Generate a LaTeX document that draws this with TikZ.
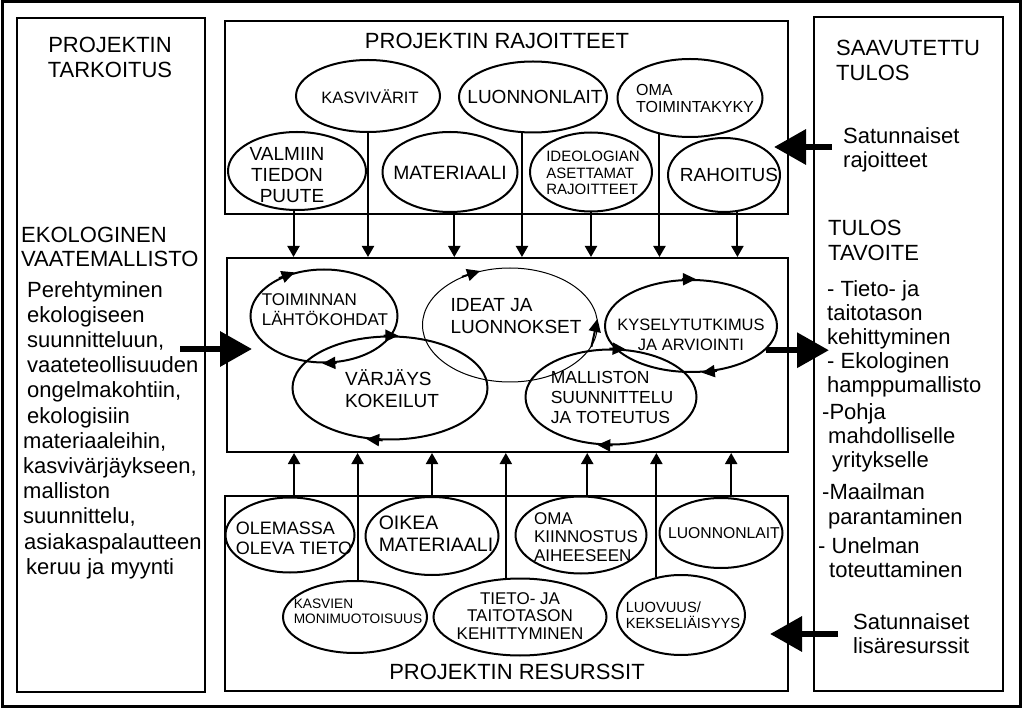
\documentclass[tikz,border=0pt]{standalone}
\usepackage{fontspec}
\setmainfont{Liberation Sans}
\usetikzlibrary{arrows.meta,shapes.geometric}
\newcommand{\fs}[2]{\fontsize{#1}{#2}\selectfont}
\tikzset{
  laatikko/.style={draw, line width=2pt, inner sep=0pt, anchor=north west},
  soikio/.style={draw, ellipse, line width=2pt, inner sep=0pt},
  teksti/.style={inner sep=0pt, align=left},
  alas/.style={line width=2pt, -{Triangle[length=11pt,width=12pt]}},
  iso/.style={line width=6.5pt, -{Triangle[length=32pt,width=34pt]}},
  kierto/.style={line width=2pt, -{Triangle[length=13pt,width=12pt]}},
}
\begin{document}
\begin{tikzpicture}[x=1pt,y=-1pt]%
   \useasboundingbox (0,0) rectangle (1023,708);
   \draw[line width=3pt] (2,2) rectangle (1020,706);
   \node[laatikko, minimum width=188pt, minimum height=674pt] (tarkoitusbox) at (16,17) {};
   \node[laatikko, minimum width=563pt, minimum height=193pt] (rajoitteet) at (224,20) {};
   \node[laatikko, minimum width=561pt, minimum height=194pt] (keski) at (226,257) {};
   \node[laatikko, minimum width=563pt, minimum height=195pt] (resurssit) at (224,495) {};
   \node[laatikko, minimum width=189pt, minimum height=674pt] (tulosbox) at (813,16) {};
   \node[teksti, align=center, anchor=north, font=\fs{22}{25}] (tarkoitus) at (110,37) {PROJEKTIN\\TARKOITUS};
   \node[teksti, anchor=north west, font=\fs{22}{24}] (ekologinen) at (21,227) {EKOLOGINEN\\VAATEMALLISTO};
   \node[teksti, anchor=north west, font=\fs{22}{25.2}] (kuvaus) at (23,281) {\hspace*{4pt}Perehtyminen\\\hspace*{4pt}ekologiseen\\\hspace*{4pt}suunnitteluun,\\\hspace*{4pt}vaateteollisuuden\\\hspace*{4pt}ongelmakohtiin,\\\hspace*{4pt}ekologisiin\\materiaaleihin,\\kasvivärjäykseen,\\malliston\\suunnittelu,\\\hspace*{1pt}asiakaspalautteen\\\hspace*{3pt}keruu ja myynti};
   \node[teksti, font=\fs{22}{25}] (rajotsikko) at (497,41) {PROJEKTIN RAJOITTEET};
   \node[teksti, font=\fs{22}{25}] (resotsikko) at (517,672) {PROJEKTIN RESURSSIT};
   \node[teksti, anchor=north west, font=\fs{22}{25}] (saavutettu) at (836,40) {SAAVUTETTU\\TULOS};
   \node[teksti, anchor=north west, font=\fs{22}{24.5}] (rajsat) at (843,127) {Satunnaiset\\rajoitteet};
   \node[teksti, anchor=north west, font=\fs{22}{25}] (tulostavoite) at (828,220) {TULOS\\TAVOITE};
   \node[teksti, anchor=north west, font=\fs{22}{24}] (tavoite1) at (827,280) {- Tieto- ja\\taitotason\\kehittyminen\\- Ekologinen\\hamppumallisto};
   \node[teksti, anchor=north west, font=\fs{22}{24}] (tavoite2) at (822,403) {-Pohja\\\hspace*{6pt}mahdolliselle\\\hspace*{10pt}yritykselle};
   \node[teksti, anchor=north west, font=\fs{22}{25}] (tavoite3) at (822,483) {-Maailman\\\hspace*{6pt}parantaminen};
   \node[teksti, anchor=north west, font=\fs{22}{24.5}] (tavoite4) at (818,537) {- Unelman\\\hspace*{11pt}toteuttaminen};
   \node[teksti, anchor=north west, font=\fs{22}{24}] (lisasat) at (853,613) {Satunnaiset\\lisäresurssit};
   \node[soikio, minimum width=144pt, minimum height=72pt] (kasvivarit) at (368,96) {};
   \node[teksti, font=\fs{16.5}{18}] (kasvivarit-t) at (370,97) {KASVIVÄRIT};
   \node[soikio, minimum width=148pt, minimum height=71pt] (luonnonlait) at (533,97) {};
   \node[teksti, font=\fs{19}{21}] (luonnonlait-t) at (535,97) {LUONNONLAIT};
   \node[soikio, minimum width=145pt, minimum height=78pt] (oma) at (690,98) {};
   \node[teksti, font=\fs{16}{17}] (oma-t) at (695,98) {OMA\\TOIMINTAKYKY};
   \node[soikio, minimum width=138pt, minimum height=78pt] (valmiin) at (297,171) {};
   \node[teksti, align=center, font=\fs{19}{21}] (valmiin-t) at (287,175) {VALMIIN\\TIEDON\\\hspace*{10pt}PUUTE};
   \node[soikio, minimum width=135pt, minimum height=80pt] (materiaali) at (450,172) {};
   \node[teksti, font=\fs{19.3}{21}] (materiaali-t) at (450,173) {MATERIAALI};
   \node[soikio, minimum width=122pt, minimum height=79pt] (ideologia) at (591,172) {};
   \node[teksti, font=\fs{15}{16.5}] (ideologia-t) at (593,173) {IDEOLOGIAN\\ASETTAMAT\\RAJOITTEET};
   \node[soikio, minimum width=112pt, minimum height=74pt] (rahoitus) at (724,175) {};
   \node[teksti, font=\fs{19}{21}] (rahoitus-t) at (729,175) {RAHOITUS};
   \node[soikio, minimum width=147pt, minimum height=93pt] (toim) at (324,316) {};
   \node[teksti, font=\fs{17}{20}] (toim-t) at (325,310) {TOIMINNAN\\LÄHTÖKOHDAT};
   \node[soikio, minimum width=195pt, minimum height=103pt] (var) at (390,388) {};
   \node[teksti, font=\fs{19}{22}] (var-t) at (392,389) {VÄRJÄYS\\KOKEILUT};
   \node[soikio, line width=1pt, minimum width=175pt, minimum height=114pt] (ideat) at (510,325) {};
   \node[teksti, font=\fs{19}{22}] (ideat-t) at (516,316) {IDEAT JA\\LUONNOKSET};
   \node[soikio, minimum width=172pt, minimum height=92pt] (kysely) at (691,326) {};
   \node[teksti, align=center, font=\fs{16.5}{20}] (kysely-t) at (691,335) {KYSELYTUTKIMUS\\JA ARVIOINTI};
   \node[soikio, minimum width=171pt, minimum height=95pt] (mall) at (611,397) {};
   \node[teksti, font=\fs{17.5}{20}] (mall-t) at (612,397) {MALLISTON\\SUUNNITTELU\\JA TOTEUTUS};
   \node[soikio, minimum width=129pt, minimum height=75pt] (olemassa) at (290,535) {};
   \node[teksti, font=\fs{18}{20}] (olemassa-t) at (294,538) {OLEMASSA\\OLEVA TIETO};
   \node[soikio, minimum width=133pt, minimum height=78pt] (oikea) at (432,536) {};
   \node[teksti, font=\fs{19.5}{22}] (oikea-t) at (436,534) {OIKEA\\MATERIAALI};
   \node[soikio, minimum width=131pt, minimum height=77pt] (kiinnostus) at (581,535) {};
   \node[teksti, font=\fs{17}{18.5}] (kiinnostus-t) at (586,537) {OMA\\KIINNOSTUS\\AIHEESEEN};
   \node[soikio, minimum width=123pt, minimum height=70pt] (luonnonlait2) at (721,533) {};
   \node[teksti, font=\fs{15.7}{17}] (luonnonlait2-t) at (724,533) {LUONNONLAIT};
   \node[soikio, minimum width=144pt, minimum height=72pt] (kasvien) at (355,617) {};
   \node[teksti, font=\fs{13.7}{15}] (kasvien-t) at (358,611) {KASVIEN\\MONIMUOTOISUUS};
   \node[soikio, minimum width=173pt, minimum height=77pt] (tieto) at (520,617) {};
   \node[teksti, align=center, font=\fs{17}{17.5}] (tieto-t) at (520,616) {TIETO- JA\\TAITOTASON\\KEHITTYMINEN};
   \node[soikio, minimum width=128pt, minimum height=80pt] (luovuus) at (681,615) {};
   \node[teksti, font=\fs{14.7}{16}] (luovuus-t) at (683,615) {LUOVUUS/\\KEKSELIÄISYYS};
   \draw[alas] (valmiin.265) -- (valmiin.265 |- keski.north);
   \draw[alas] (kasvivarit.south) -- (kasvivarit.south |- keski.north);
   \draw[alas] (materiaali.276) -- (materiaali.276 |- keski.north);
   \draw[alas] (luonnonlait.253) -- (luonnonlait.253 |- keski.north);
   \draw[alas] (ideologia.south) -- (ideologia.south |- keski.north);
   \draw[alas] (oma.230) -- (oma.230 |- keski.north);
   \draw[alas] (rahoitus.290) -- (rahoitus.290 |- keski.north);
   \draw[alas] (olemassa.84) -- (olemassa.84 |- keski.south);
   \draw[alas] (kasvien.86) -- (kasvien.86 |- keski.south);
   \draw[alas] (oikea.north) -- (oikea.north |- keski.south);
   \draw[alas] (tieto.110) -- (tieto.110 |- keski.south);
   \draw[alas] (kiinnostus.81) -- (kiinnostus.81 |- keski.south);
   \draw[alas] (luovuus.123) -- (luovuus.123 |- keski.south);
   \draw[alas] (luonnonlait2.74) -- (luonnonlait2.74 |- keski.south);
   \draw[kierto] (toim.140) -- (toim.124);
   \draw[kierto] (toim.285) -- (toim.268);
   \draw[kierto] (var.97) -- (var.81);
   \draw[kierto] (var.262) -- (var.245);
   \draw[kierto] (ideat.135) -- (ideat.119);
   \draw[kierto] (ideat.345) -- (ideat.4);
   \draw[kierto] (kysely.101) -- (kysely.84);
   \draw[kierto] (kysely.300) -- (kysely.283);
   \draw[kierto] (mall.92) -- (mall.73);
   \draw[kierto] (mall.272) -- (mall.254);
   \coordinate (vasenalku) at (180,349);
   \coordinate (vasenkarki) at (252,349);
   \coordinate (oikeakarki) at (829,351);
   \coordinate (rajalku) at (832,147);
   \coordinate (rajkarki) at (774,147);
   \coordinate (lisaalku) at (838,634);
   \coordinate (lisakarki) at (770,634);
   \draw[iso] (vasenalku) -- (vasenkarki);
   \draw[iso] (kysely.342) -- (kysely.342 -| oikeakarki);
   \draw[iso] (rajalku) -- (rajkarki);
   \draw[iso] (lisaalku) -- (lisakarki);
\end{tikzpicture}
\end{document}
